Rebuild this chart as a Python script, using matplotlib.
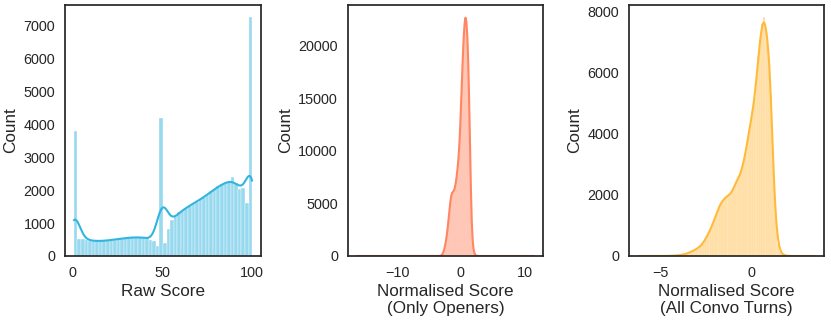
import numpy as np
import matplotlib
matplotlib.use("Agg")
import matplotlib.pyplot as plt
import seaborn as sns

# ---------------- data ----------------
# Panel 1: raw score, 50 bins over [1, 100]
raw_bin_counts = [3800, 527, 510, 490, 465, 455, 450, 450, 460, 470,
                  485, 500, 515, 530, 545, 555, 565, 570, 570, 565,
                  555, 500, 440, 300, 4200, 395, 830, 1080, 1210, 1320,
                  1400, 1460, 1530, 1590, 1650, 1720, 1780, 1860, 1960, 2040,
                  2110, 2170, 2230, 2250, 2400, 2215, 2045, 2070, 1620, 7250]
raw_spike_bins = [0, 24, 49]
raw_spike_scores = [1, 50, 100]
raw_range = (1, 100)
raw_xticks = [0, 50, 100]
raw_yticks = [0, 1000, 2000, 3000, 4000, 5000, 6000, 7000]

# Panel 2: normalised score (only openers), bins of 0.1 starting at centre -3.5
open_start = -3.5
open_counts = [5, 8, 12, 20, 40, 80, 150, 260, 420, 620,
               880, 1180, 1550, 1950, 2450, 3000, 3600, 4250, 4850, 5350,
               5750, 5950, 6050, 6100, 6200, 6300, 6550, 6900, 7300, 7800,
               8350, 9000, 9800, 10800, 12100, 13600, 15300, 17000, 18700, 20100,
               21300, 22200, 22700, 22700, 22200, 21300, 19800, 17800, 15200, 12200,
               8800, 5800, 3500, 2000, 1100, 600, 320, 170, 90, 45,
               20, 10, 5]
open_outliers = [-16.3, -13.5, -11.0, -9.0, -7.5, -6.0, -5.0, -4.5, -4.0,
                 3.2, 4.0, 5.5, 8.0, 11.5]
open_range = (-16.35, 11.55)
open_xticks = [-10, 0, 10]
open_yticks = [0, 5000, 10000, 15000, 20000]

# Panel 3: normalised score (all convo turns), bins of 0.1 starting at centre -4.5
turns_start = -4.5
turns_counts = [5, 8, 10, 14, 18, 24, 32, 42, 55, 70,
                90, 115, 140, 170, 200, 235, 275, 320, 390, 470,
                570, 680, 800, 930, 1080, 1230, 1400, 1560, 1690, 1790,
                1860, 1920, 1960, 2000, 2060, 2160, 2320, 2450, 2550, 2670,
                2850, 3100, 3400, 3750, 4100, 4450, 4800, 5200, 5800, 6500,
                7100, 7600, 7820, 7600, 7150, 6500, 5300, 3300, 1800, 900,
                400, 170, 70, 30, 15, 8]
turns_outliers = [-6.2, -5.7, -5.3, -5.0, -4.8, -4.7, 2.2, 2.5, 2.9, 3.5]
turns_range = (-6.25, 3.55)
turns_xticks = [-5, 0]
turns_yticks = [0, 2000, 4000, 6000, 8000]

colors = ["#30B5DF", "#FF8660", "#FFBA3C"]
xlabels = ["Raw Score", "Normalised Score\n(Only Openers)",
           "Normalised Score\n(All Convo Turns)"]

# ---------------- build samples ----------------
raw_edges = np.linspace(raw_range[0], raw_range[1], len(raw_bin_counts) + 1)
raw_pos = (raw_edges[:-1] + raw_edges[1:]) / 2
raw_pos[raw_spike_bins] = raw_spike_scores
raw_data = np.repeat(raw_pos, raw_bin_counts)

open_centres = open_start + 0.1 * np.arange(len(open_counts))
open_data = np.concatenate([np.repeat(open_centres, open_counts), open_outliers])

turns_centres = turns_start + 0.1 * np.arange(len(turns_counts))
turns_data = np.concatenate([np.repeat(turns_centres, turns_counts), turns_outliers])

# ---------------- style ----------------
sns.set_style("white")
plt.rcParams["font.family"] = ["Liberation Sans", "DejaVu Sans"]
plt.rcParams["axes.edgecolor"] = "0.15"
plt.rcParams["axes.linewidth"] = 1.25
plt.rcParams["text.color"] = "0.15"
plt.rcParams["axes.labelcolor"] = "0.15"
plt.rcParams["xtick.color"] = "0.15"
plt.rcParams["ytick.color"] = "0.15"

fig = plt.figure(figsize=(8.31, 3.21), dpi=100)
rects = [[0.0782, 0.2025, 0.2359, 0.782],
         [0.4184, 0.2025, 0.2354, 0.782],
         [0.7569, 0.2025, 0.2350, 0.782]]
axes = [fig.add_axes(r) for r in rects]

ax = axes[0]
sns.histplot(x=raw_data, bins=raw_edges, kde=True, color=colors[0], ax=ax,
             line_kws={"linewidth": 1.5})
ax.set_xticks(raw_xticks)
ax.set_yticks(raw_yticks)

ax = axes[1]
sns.histplot(x=open_data, binwidth=0.1, binrange=open_range, kde=True,
             color=colors[1], ax=ax, line_kws={"linewidth": 1.5})
ax.set_xticks(open_xticks)
ax.set_yticks(open_yticks)

ax = axes[2]
sns.histplot(x=turns_data, binwidth=0.1, binrange=turns_range, kde=True,
             color=colors[2], ax=ax, line_kws={"linewidth": 1.5})
ax.set_xticks(turns_xticks)
ax.set_yticks(turns_yticks)

for ax, lab in zip(axes, xlabels):
    ax.set_xlabel(lab, fontsize=12.3, labelpad=3)
    ax.set_ylabel("Count", fontsize=12.3, labelpad=4)
    ax.tick_params(axis="both", labelsize=10.4, length=0, pad=7)
    for s in ax.spines.values():
        s.set_visible(True)
        s.set_color("0.15")
        s.set_linewidth(1.25)

fig.savefig("out.png", dpi=100)
